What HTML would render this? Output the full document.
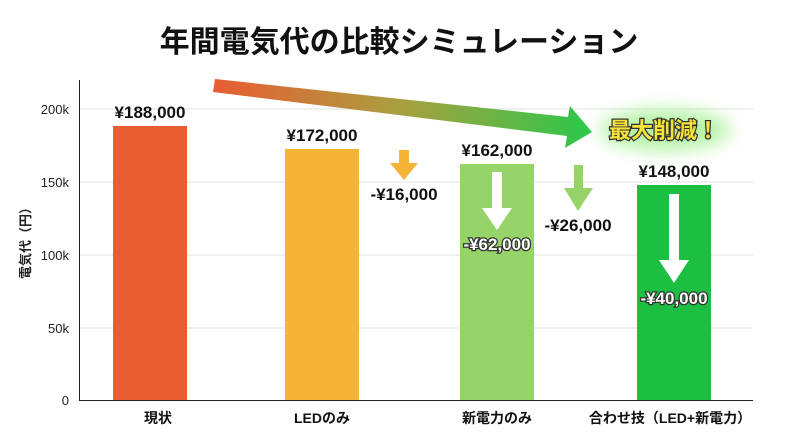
<!DOCTYPE html>
<html><head><meta charset="utf-8"><style>
body{margin:0;background:#fff;}
svg text{font-family:"Liberation Sans","Noto Sans CJK JP",sans-serif;}
</style></head><body>
<svg width="800" height="436" viewBox="0 0 800 436" xmlns="http://www.w3.org/2000/svg">
<defs>
<linearGradient id="g" x1="215" y1="0" x2="590" y2="0" gradientUnits="userSpaceOnUse">
<stop offset="0" stop-color="#e85d32"/><stop offset="0.5" stop-color="#a8a040"/><stop offset="1" stop-color="#2cc84a"/>
</linearGradient>
<filter id="glow" x="-50%" y="-100%" width="200%" height="300%"><feGaussianBlur stdDeviation="9"/></filter>
</defs>
<rect width="800" height="436" fill="#fff"/>
<text x="399" y="52" text-anchor="middle" font-size="30" font-weight="bold" fill="#111">年間電気代の比較シミュレーション</text>
<g stroke="#e6e6e6" stroke-width="1.2">
<line x1="80" y1="109" x2="753" y2="109"/><line x1="80" y1="182" x2="753" y2="182"/>
<line x1="80" y1="255" x2="753" y2="255"/><line x1="80" y1="328" x2="753" y2="328"/>
</g>
<line x1="79.5" y1="80" x2="79.5" y2="400" stroke="#222" stroke-width="1"/>
<line x1="79" y1="400.5" x2="753" y2="400.5" stroke="#222" stroke-width="1"/>
<g font-size="13" fill="#222" text-anchor="end">
<text x="69" y="114">200k</text><text x="69" y="187">150k</text><text x="69" y="260">100k</text><text x="69" y="333">50k</text><text x="69" y="405">0</text>
</g>
<text transform="translate(30,240) rotate(-90)" text-anchor="middle" font-size="13" font-weight="bold" fill="#222">電気代（円）</text>
<rect x="113" y="126" width="74" height="274" fill="#e85d32"/>
<rect x="285" y="149" width="74" height="251" fill="#f4b537"/>
<rect x="460" y="164" width="74" height="236" fill="#96d46a"/>
<rect x="637" y="185" width="74" height="215" fill="#1dbf43"/>
<g font-size="17" font-weight="bold" fill="#111" text-anchor="middle">
<text x="150" y="118">¥188,000</text><text x="322" y="141">¥172,000</text>
<text x="497" y="156">¥162,000</text><text x="674" y="177">¥148,000</text>
<text x="404" y="200">-¥16,000</text><text x="578" y="231">-¥26,000</text>
</g>
<g font-size="14" font-weight="bold" text-anchor="middle">
<text x="158" y="423" fill="#111">現状</text><text x="322" y="423" fill="#111">LEDのみ</text>
<text x="497" y="423" fill="#111">新電力のみ</text><text x="670" y="423" fill="#111">合わせ技（LED+新電力）</text>
</g>
<polygon points="215,79 568,117 570,106 592,132 565,148 567,136 213,92" fill="url(#g)"/>
<polygon points="399,150 409,150 409,163 418,163 404,180 390,163 399,163" fill="#f4b537"/>
<polygon points="574,165 583,165 583,188 593,188 578,211 564,188 574,188" fill="#96d46a"/>
<polygon points="492,172 502,172 502,208 512,208 497,230 482,208 492,208" fill="#fff"/>
<polygon points="669,194 679,194 679,260 689,260 674,283 659,260 669,260" fill="#fff"/>
<g font-size="17" font-weight="bold" text-anchor="middle" fill="#fff" stroke="#333" stroke-width="2.5" paint-order="stroke">
<text x="497" y="250">-¥62,000</text><text x="674" y="304">-¥40,000</text>
</g>
<ellipse cx="665" cy="130" rx="65" ry="20" fill="#9ef08a" opacity="0.8" filter="url(#glow)"/>
<text x="664" y="138" text-anchor="middle" font-size="22" font-weight="bold" fill="#f5e23a" stroke="#333" stroke-width="2.5" paint-order="stroke">最大削減！</text>
</svg>
</body></html>
